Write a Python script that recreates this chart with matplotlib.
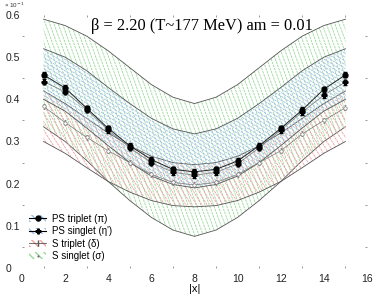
import numpy as np
import matplotlib
matplotlib.use("Agg")
import matplotlib.pyplot as plt
from matplotlib.collections import LineCollection
from matplotlib.patches import Patch
from matplotlib.lines import Line2D

# distances |x| on the lattice
x = [1, 2, 3, 4, 5, 6, 7, 8, 9, 10, 11, 12, 13, 14, 15]

# correlator points (units of 1e-1)
ps_triplet = [0.458, 0.427, 0.379, 0.331, 0.290, 0.257, 0.234, 0.228, 0.234, 0.254, 0.290, 0.331, 0.375, 0.424, 0.458]
ps_singlet = [0.442, 0.418, 0.375, 0.327, 0.285, 0.250, 0.227, 0.220, 0.227, 0.247, 0.285, 0.327, 0.370, 0.410, 0.441]
s_triplet = [0.383, 0.345, 0.310, 0.278, 0.250, 0.222, 0.203, 0.197, 0.203, 0.222, 0.250, 0.278, 0.318, 0.350, 0.380]
err = [0.006] * 15

# error bands
green_hi = [0.590, 0.575, 0.550, 0.515, 0.475, 0.435, 0.405, 0.390, 0.405, 0.435, 0.475, 0.515, 0.550, 0.575, 0.590]
green_lo = [0.335, 0.300, 0.255, 0.205, 0.160, 0.120, 0.090, 0.075, 0.090, 0.120, 0.160, 0.205, 0.255, 0.300, 0.335]
blue_hi = [0.520, 0.500, 0.468, 0.428, 0.390, 0.355, 0.330, 0.318, 0.330, 0.355, 0.390, 0.428, 0.468, 0.500, 0.520]
blue_lo = [0.400, 0.372, 0.332, 0.290, 0.250, 0.218, 0.198, 0.190, 0.198, 0.218, 0.250, 0.290, 0.332, 0.372, 0.400]
red_hi = [0.420, 0.390, 0.355, 0.320, 0.290, 0.265, 0.250, 0.245, 0.250, 0.265, 0.290, 0.320, 0.355, 0.390, 0.420]
red_lo = [0.300, 0.272, 0.238, 0.205, 0.180, 0.160, 0.148, 0.145, 0.148, 0.160, 0.180, 0.205, 0.238, 0.272, 0.300]

legend_labels = ["PS triplet (\u03c0)", "PS singlet (\u03b7')", "S triplet (\u03b4)", "S singlet (\u03c3)"]
xticks = [0, 2, 4, 6, 8, 10, 12, 14, 16]
yticks = [0, 0.1, 0.2, 0.3, 0.4, 0.5, 0.6]

plt.rcParams['font.family'] = ['Liberation Sans', 'DejaVu Sans']

fig = plt.figure(figsize=(3.74, 3.0), dpi=100)
ax = fig.add_axes([0.0588, 0.1067, 0.9225, 0.8433])
ax.set_xlim(0, 16)
ax.set_ylim(0, 0.6)


def hatch_band(lo, hi, color, angle, spacing):
    poly = ax.fill_between(x, lo, hi, facecolor='none', lw=0)
    bb = ax.get_window_extent()
    W, H = bb.width, bb.height
    th = np.deg2rad(angle)
    d = np.array([np.cos(th), np.sin(th)])
    n = np.array([-d[1], d[0]])
    L = np.hypot(W, H)
    c = np.array([W / 2, H / 2])
    segs = []
    for o in np.arange(-L, L, spacing):
        p0 = (c + o * n - L * d) / [W, H]
        p1 = (c + o * n + L * d) / [W, H]
        segs.append([p0, p1])
    lc = LineCollection(segs, colors=color, lw=0.6, transform=ax.transAxes,
                        linestyles=(0, (3, 1)))
    lc.set_clip_path(poly.get_paths()[0], poly.get_transform())
    ax.add_collection(lc)
    ax.plot(x, lo, color='#555555', lw=0.6)
    ax.plot(x, hi, color='#555555', lw=0.6)


hatch_band(green_lo, green_hi, '#9ad89a', -70, 4.0)
hatch_band(red_lo, red_hi, '#f0a0a0', -58, 4.5)
hatch_band(blue_lo, blue_hi, '#9cc0ea', -32, 3.2)

# fit lines through the points
ax.plot(x, ps_triplet, color='#222222', lw=0.7)
ax.plot(x, ps_singlet, color='#777777', lw=0.5)
ax.plot(x, s_triplet, color='#777777', lw=0.5)

ax.errorbar(x, s_triplet, yerr=err, fmt='o', ms=2.5, mfc='white', mec='#777777',
            ecolor='#777777', elinewidth=0.5, capsize=1.0, mew=0.5)
ax.errorbar(x, ps_singlet, yerr=err, fmt='P', ms=3.5, color='black',
            elinewidth=0.7, capsize=1.3)
ax.errorbar(x, ps_triplet, yerr=err, fmt='o', ms=3.5, color='black',
            elinewidth=0.7, capsize=1.3)

ax.text(3.2, 0.575, "\u03b2 = 2.20 (T~177 MeV) am = 0.01", fontsize=11.8,
        family=['Liberation Serif', 'DejaVu Serif'], va='center', ha='left')
fig.text(0.012, 0.997, "\u00d7 10$^{-1}$", fontsize=4.5, va='top', ha='left', color='#333333')

for s in ax.spines.values():
    s.set_visible(False)
ax.set_xticks(xticks)
ax.set_xticklabels([str(t) for t in xticks])
ax.set_yticks(yticks)
ax.set_yticklabels(["0", "0.1", "0.2", "0.3", "0.4", "0.5", "0.6"])
ax.set_xticks([1, 3, 5, 7, 9, 11, 13, 15], minor=True)
ax.set_yticks([0.05, 0.15, 0.25, 0.35, 0.45, 0.55], minor=True)
ax.tick_params(which='major', length=0, labelsize=7.5, colors='#222222')
ax.tick_params(axis='y', which='major', pad=12)
ax.tick_params(axis='x', which='major', pad=4)
ax.tick_params(which='minor', direction='in', length=1.5, width=0.6, color='#888888',
               top=True, right=True)
for lab in ax.get_yticklabels():
    lab.set_horizontalalignment('left')
ax.set_xlabel("|x|", fontsize=8, labelpad=0)

# legend
h1 = (Patch(facecolor='none', edgecolor='#9cc0ea', hatch='\\\\\\\\', lw=0),
      Line2D([], [], color='black', marker='o', ms=3.5, lw=0.8))
h2 = (Patch(facecolor='none', edgecolor='#9cc0ea', hatch='\\\\\\\\', lw=0),
      Line2D([], [], color='black', marker='P', ms=3.5, lw=0.8))
h3 = (Patch(facecolor='none', edgecolor='#f0a0a0', hatch='\\\\\\\\', lw=0),
      Line2D([], [], color='#555555', marker='|', ms=4, lw=0.6))
h4 = (Patch(facecolor='none', edgecolor='#9ad89a', hatch='\\\\\\\\', lw=0),
      Line2D([], [], color='#555555', marker='.', ms=1, lw=0))
ax.legend([h1, h2, h3, h4], legend_labels, loc='lower left', bbox_to_anchor=(0.0, 0.0),
          frameon=False, fontsize=7, handlelength=1.8, handletextpad=0.6,
          labelspacing=0.25, borderaxespad=0.3)

fig.savefig("out.png", dpi=100)
